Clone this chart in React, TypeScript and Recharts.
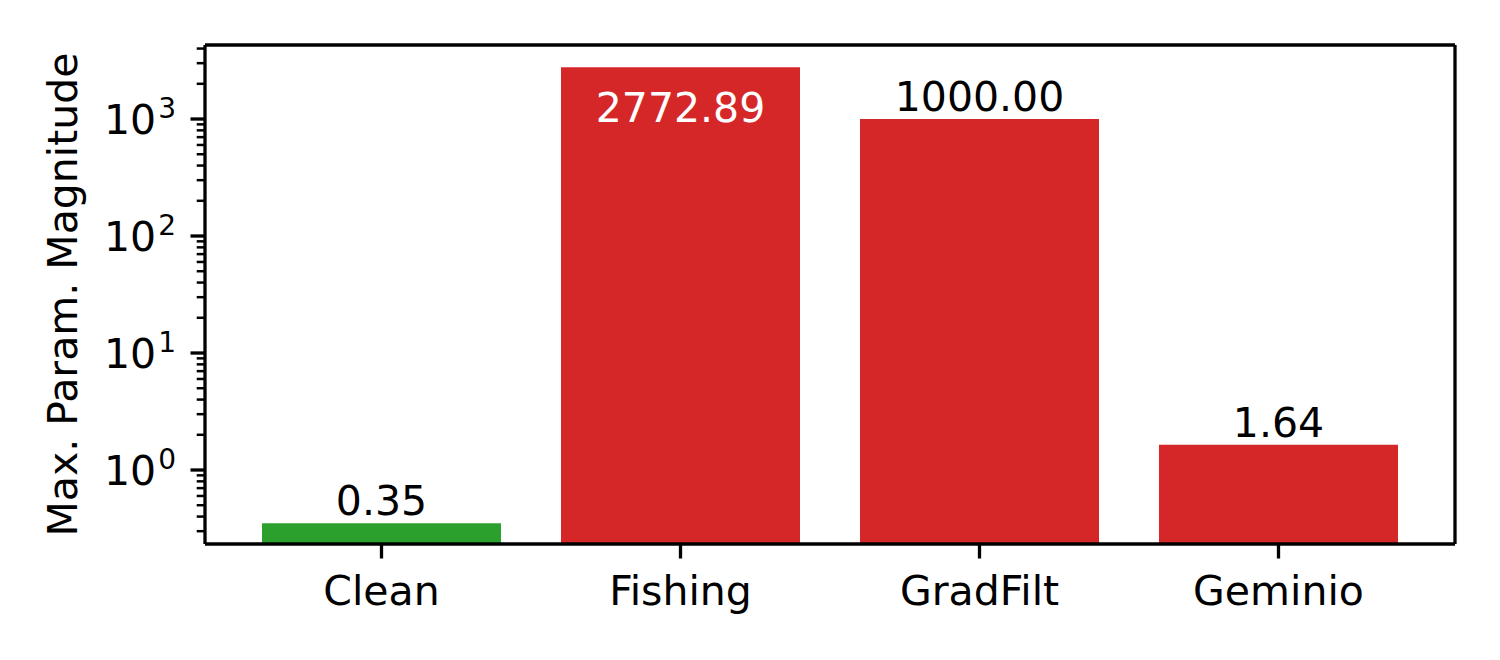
import React from 'react';
import { ComposedChart, Bar, Line, XAxis, YAxis, Cell, LabelList } from 'recharts';

const categories = ['Clean', 'Fishing', 'GradFilt', 'Geminio'];
const magnitudes = [0.35, 2772.89, 1000.0, 1.64];
const barColors = ['#2ca02c', '#d62728', '#d62728', '#d62728'];
const labelInside = [false, true, false, false];
const majorTicks = [1, 10, 100, 1000];
const minorTicks = [0.3, 0.4, 0.5, 0.6, 0.7, 0.8, 0.9, 2, 3, 4, 5, 6, 7, 8, 9, 20, 30, 40, 50, 60, 70, 80, 90, 200, 300, 400, 500, 600, 700, 800, 900, 2000, 3000, 4000];
const yDomain = [0.2331, 4291];
const yLabel = 'Max. Param. Magnitude';

const data = categories.map((c, i) => ({ name: c, value: magnitudes[i], frame: 0.5 }));
const yTicks = [...majorTicks, ...minorTicks].sort((a, b) => a - b);

const FONT = 'DejaVu Sans';
const FS = 41;

const YTick = (props: any) => {
  const { x, y, payload } = props;
  const v = payload.value;
  const isMajor = majorTicks.some((m) => Math.abs(m - v) / m < 1e-6);
  const exp = Math.round(Math.log10(v));
  return (
    <g>
      <line x1={x - (isMajor ? 14.5 : 8.3)} x2={x} y1={y} y2={y} stroke="#000" strokeWidth={isMajor ? 3.3 : 2.5} />
      {isMajor && (
        <text x={x - 29} y={y + 15} textAnchor="end" fontFamily={FONT} fontSize={FS} fill="#000">
          <tspan>10</tspan>
          <tspan dx={2} dy={-16} fontSize={28}>{String(exp)}</tspan>
        </text>
      )}
    </g>
  );
};

const renderBarLabel = (props: any) => {
  const { x, y, width, value, index } = props;
  const i = typeof index === 'number' ? index : magnitudes.indexOf(value);
  const inside = labelInside[i];
  const cx = x + width / 2;
  return (
    <text
      x={cx}
      y={inside ? y + 55 : y - 8}
      textAnchor="middle"
      fontFamily={FONT}
      fontSize={FS}
      fill={inside ? '#ffffff' : '#000000'}
    >
      {Number(value).toFixed(2)}
    </text>
  );
};

const renderYLabel = (props: any) => {
  const vb = props.viewBox || {};
  const cx = (vb.x || 0) + 62;
  const cy = (vb.y || 0) + (vb.height || 0) / 2;
  return (
    <text
      x={cx}
      y={cy}
      transform={`rotate(-90, ${cx}, ${cy})`}
      textAnchor="middle"
      dy="0.355em"
      fontFamily={FONT}
      fontSize={FS}
      fill="#000"
    >
      {yLabel}
    </text>
  );
};

export default function App() {
  return (
    <div style={{ position: 'absolute', left: 0, top: 0, width: 1500, height: 660, background: '#fff' }}>
      <ComposedChart width={1500} height={660} data={data} margin={{ top: 44, right: 44, bottom: 0, left: 0 }}>
        <XAxis
          dataKey="name"
          height={116}
          padding={{ left: 27, right: 27 }}
          tickSize={14.5}
          tickMargin={17}
          axisLine={{ stroke: '#000', strokeWidth: 3.3 }}
          tickLine={{ stroke: '#000', strokeWidth: 3.3 }}
          tick={{ fill: '#000', fontFamily: FONT, fontSize: FS }}
          interval={0}
        />
        <XAxis
          xAxisId="top"
          dataKey="name"
          orientation="top"
          height={1}
          padding={{ left: 27, right: 27 }}
          tick={false}
          tickLine={false}
          axisLine={{ stroke: '#000', strokeWidth: 3.3 }}
        />
        <YAxis
          type="number"
          scale="log"
          domain={yDomain}
          allowDataOverflow
          ticks={yTicks}
          interval={0}
          width={205}
          tickSize={0}
          tickMargin={0}
          tickLine={false}
          axisLine={{ stroke: '#000', strokeWidth: 3.3 }}
          tick={<YTick />}
          label={{ content: renderYLabel }}
        />
        <YAxis
          yAxisId="right"
          orientation="right"
          type="number"
          domain={[0, 1]}
          allowDataOverflow
          width={1}
          tick={false}
          tickLine={false}
          axisLine={{ stroke: '#000', strokeWidth: 3.3 }}
        />
        <Bar dataKey="value" barSize={239} isAnimationActive={false}>
          {data.map((d, i) => (
            <Cell key={d.name} fill={barColors[i]} />
          ))}
          <LabelList dataKey="value" content={renderBarLabel} />
        </Bar>
        <Line
          dataKey="frame"
          xAxisId="top"
          yAxisId="right"
          stroke="none"
          strokeOpacity={0}
          dot={false}
          activeDot={false}
          legendType="none"
          isAnimationActive={false}
        />
      </ComposedChart>
    </div>
  );
}
